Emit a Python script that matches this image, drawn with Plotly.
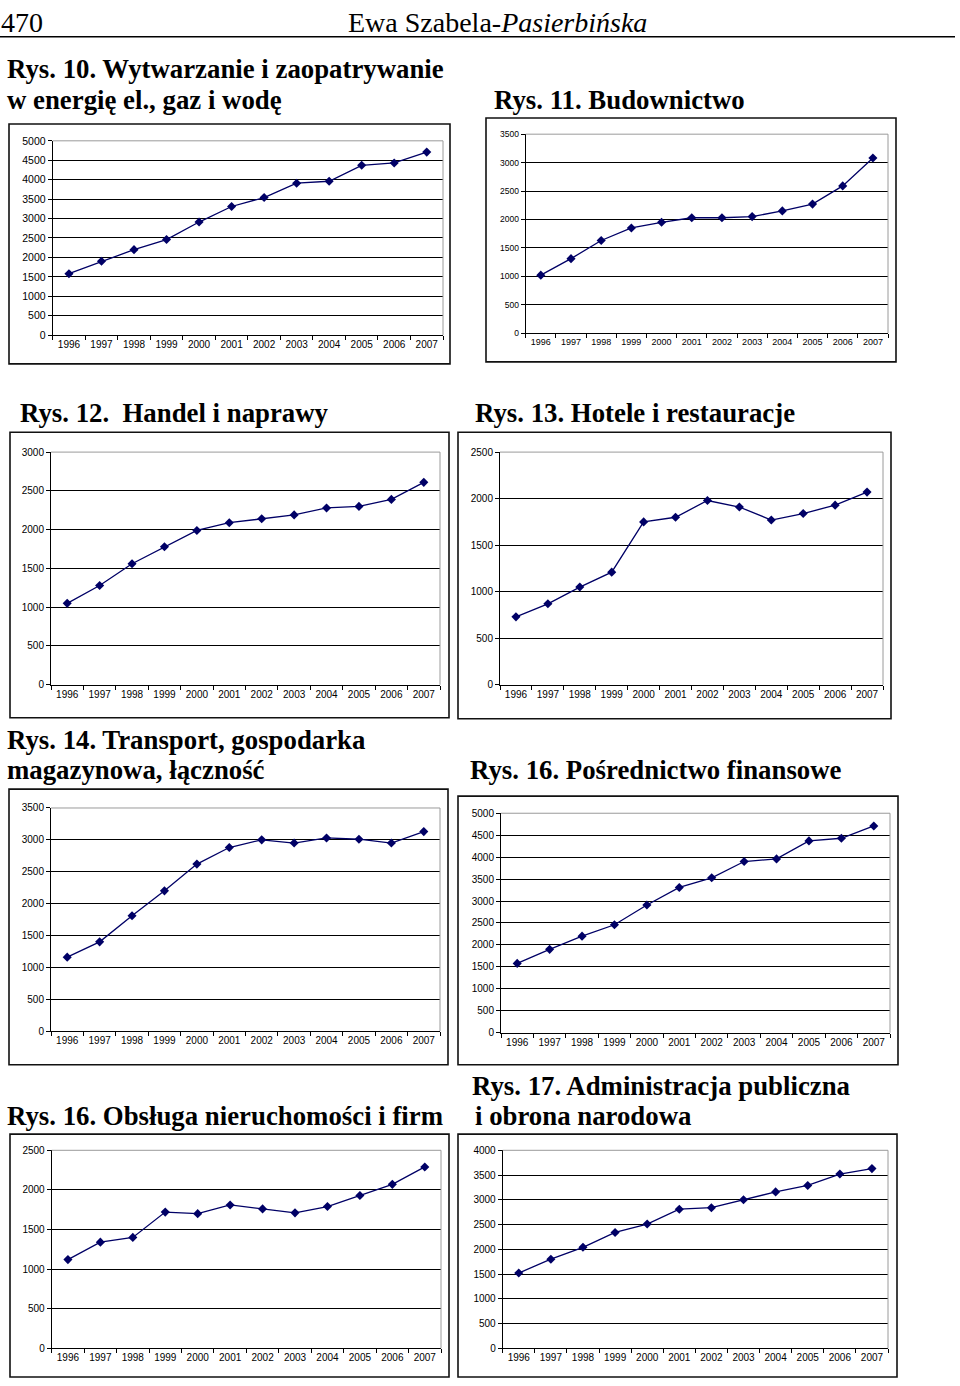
import plotly.graph_objects as go

W, H = 960, 1386

years = ["1996", "1997", "1998", "1999", "2000", "2001", "2002", "2003", "2004", "2005", "2006", "2007"]

energia = [1580, 1900, 2200, 2460, 2910, 3310, 3540, 3910, 3960, 4370, 4430, 4710]
budownictwo = [1020, 1310, 1630, 1850, 1950, 2030, 2030, 2050, 2150, 2270, 2590, 3080]
handel = [1050, 1280, 1560, 1780, 1990, 2090, 2140, 2190, 2280, 2300, 2390, 2610]
hotele = [730, 870, 1050, 1210, 1750, 1800, 1980, 1910, 1770, 1840, 1930, 2070]
transport = [1160, 1400, 1810, 2200, 2620, 2880, 3000, 2950, 3030, 3010, 2950, 3130]
finanse = [1580, 1900, 2200, 2460, 2910, 3310, 3530, 3900, 3960, 4370, 4430, 4710]
nieruchomosci = [1120, 1340, 1400, 1720, 1700, 1810, 1760, 1710, 1790, 1930, 2070, 2290]
administracja = [1520, 1800, 2040, 2340, 2510, 2810, 2840, 3000, 3160, 3290, 3520, 3630]

series = [energia, budownictwo, handel, hotele, transport, finanse, nieruchomosci, administracja]
ymax = [5000, 3500, 3000, 2500, 3500, 5000, 2500, 4000]

# layout in pixels: plot area (left, right, top, bottom), outer box (left, right, top, bottom)
plot_px = [
    (52.7, 443, 136, 332),
    (525.7, 888, 129.3, 330),
    (51, 440, 450, 684.7),
    (500, 883, 450, 684.7),
    (51, 440, 809, 1034),
    (501, 890, 814.3, 1035.7),
    (51.7, 441, 1154.3, 1354),
    (502.7, 888, 1154.3, 1354),
]
box_px = [
    (9, 450, 119, 361),
    (486, 896, 113, 359),
    (10, 449, 430, 718),
    (458, 891, 430, 719),
    (9, 448, 790, 1068),
    (458, 898, 797, 1068),
    (10, 449, 1138, 1383),
    (458, 897, 1138, 1383),
]
xtick_sizes = [10, 9, 10, 10, 10, 10, 10, 10]
ytick_sizes = [10.5, 8.5, 10, 10, 10, 10, 10, 10]

titles = [
    ("Rys. 10. Wytwarzanie i zaopatrywanie", 5, 64),
    ("w energię el., gaz i wodę", 5, 95),
    ("Rys. 11. Budownictwo", 492, 95),
    ("Rys. 12.  Handel i naprawy", 18, 411),
    ("Rys. 13. Hotele i restauracje", 473, 411),
    ("Rys. 14. Transport, gospodarka", 5, 740),
    ("magazynowa, łączność", 5, 771),
    ("Rys. 16. Pośrednictwo finansowe", 468, 771),
    ("Rys. 17. Administracja publiczna", 470, 1089),
    ("i obrona narodowa", 473, 1120),
    ("Rys. 16. Obsługa nieruchomości i firm", 5, 1120),
]

def px(x):
    return x / W

def py(y):
    return 1 - y / H

fig = go.Figure()
shapes = []
annotations = []
NAVY = "#000066"

for i, vals in enumerate(series):
    n = i + 1
    xa = "x" if n == 1 else f"x{n}"
    ya = "y" if n == 1 else f"y{n}"
    xtf = dict(family="Liberation Sans, Arial, sans-serif", size=xtick_sizes[i], color="#000000")
    ytf = dict(family="Liberation Sans, Arial, sans-serif", size=ytick_sizes[i], color="#000000")
    fig.add_trace(go.Scatter(
        x=years, y=vals, xaxis=xa, yaxis=ya, mode="lines+markers",
        line=dict(color=NAVY, width=1.3),
        marker=dict(symbol="diamond", size=7, color=NAVY),
        showlegend=False, hoverinfo="skip",
    ))
    l, r, t, b = plot_px[i]
    xkey = "xaxis" if n == 1 else f"xaxis{n}"
    ykey = "yaxis" if n == 1 else f"yaxis{n}"
    fig.layout[xkey] = dict(
        domain=[px(l), px(r)], anchor=ya, type="category",
        range=[-0.5, len(years) - 0.5], showline=True, linecolor="#000000", linewidth=1,
        ticks="outside", ticklen=4, tickcolor="#000000", tickson="boundaries",
        tickangle=0, showgrid=False, tickfont=xtf, fixedrange=True,
    )
    fig.layout[ykey] = dict(
        domain=[py(b), py(t)], anchor=xa, range=[0, ymax[i]], dtick=500,
        showline=True, linecolor="#000000", linewidth=1, ticks="outside", ticklen=4,
        tickcolor="#000000", showgrid=True, gridcolor="#000000", gridwidth=1,
        zeroline=False, tickfont=ytf, fixedrange=True,
    )
    shapes.append(dict(type="line", xref="paper", yref="paper", x0=px(l), x1=px(r), y0=py(t), y1=py(t),
                       line=dict(color="#9a9a9a", width=1), layer="above"))
    shapes.append(dict(type="line", xref="paper", yref="paper", x0=px(r), x1=px(r), y0=py(t), y1=py(b),
                       line=dict(color="#9a9a9a", width=1), layer="above"))
    bl, br, bt, bb = box_px[i]
    shapes.append(dict(type="rect", xref="paper", yref="paper", x0=px(bl), x1=px(br), y0=py(bb), y1=py(bt),
                       line=dict(color="#111111", width=1.6), layer="above"))

TITLEFONT = dict(family="Liberation Serif, Times New Roman, serif", size=26.8, color="#000000")
for text, x, y in titles:
    annotations.append(dict(text=f"<b>{text}</b>", x=px(x), y=py(y), xref="paper", yref="paper",
                            xanchor="left", yanchor="middle", showarrow=False, font=TITLEFONT))

HEADFONT = dict(family="Liberation Serif, Times New Roman, serif", size=28, color="#000000")
annotations.append(dict(text="470", x=0, y=1, xref="paper", yref="paper", xanchor="left",
                        yanchor="top", showarrow=False, font=HEADFONT, borderpad=0))
annotations.append(dict(text="Ewa Szabela-<i>Pasierbińska</i>", x=px(497), y=1, xref="paper", yref="paper",
                        xanchor="center", yanchor="top", showarrow=False, font=HEADFONT, borderpad=0))
shapes.append(dict(type="line", xref="paper", yref="paper", x0=0, x1=px(955), y0=py(31), y1=py(31),
                   line=dict(color="#000000", width=1.5)))

fig.update_layout(
    width=W, height=H, margin=dict(l=0, r=0, t=0, b=0),
    paper_bgcolor="#ffffff", plot_bgcolor="#ffffff",
    shapes=shapes, annotations=annotations,
)

fig.write_html("out.html", config={"displayModeBar": False},
               post_script="document.body.style.margin='0';document.documentElement.style.overflow='hidden';document.body.style.overflow='hidden';")
